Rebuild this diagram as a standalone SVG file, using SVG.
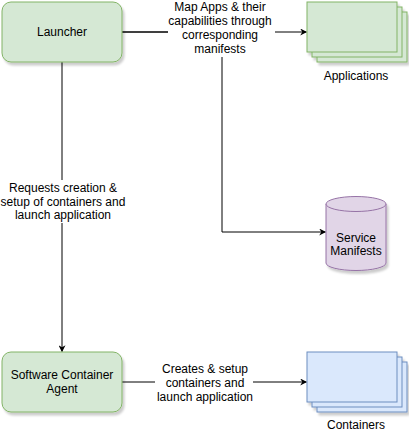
<svg xmlns="http://www.w3.org/2000/svg" width="409" height="432" viewBox="0 0 409 432">
<style>
text{font-family:"Liberation Sans",Arial,Helvetica,sans-serif;font-size:12px;fill:#000;text-anchor:middle;dominant-baseline:central}
.g{fill:#d5e8d4;stroke:#82b366;stroke-width:1}
.b{fill:#dae8fc;stroke:#6c8ebf;stroke-width:1}
.p{fill:#e1d5e7;stroke:#9673a6;stroke-width:1}
.e{fill:none;stroke:#000;stroke-width:1}
.lb{fill:#fff;stroke:none}
</style>
<defs>
<filter id="sh" x="-10%" y="-10%" width="130%" height="130%">
<feDropShadow dx="2" dy="3" stdDeviation="1.2" flood-color="#000" flood-opacity="0.2"/>
</filter>
<marker id="ar" viewBox="0 0 10 10" refX="9" refY="5" markerWidth="7" markerHeight="7" markerUnits="userSpaceOnUse" orient="auto">
<path d="M0,0 L10,5 L0,10 L3,5 Z" fill="#000"/>
</marker>
</defs>
<g id="connectors">
<path class="e" d="M122,32 H306.5" marker-end="url(#ar)"/>
<path class="e" d="M122,32 H222 V232 H325.5" marker-end="url(#ar)"/>
<path class="e" d="M62,62 V351.5" marker-end="url(#ar)"/>
<path class="e" d="M122,382 H306.5" marker-end="url(#ar)"/>
<rect class="lb" x="168" y="0" width="107" height="57"/>
<text x="220" y="7">Map Apps &amp; their</text>
<text x="220" y="21">capabilities through</text>
<text x="220" y="35">corresponding</text>
<text x="220" y="49">manifests</text>
<rect class="lb" x="1" y="180" width="126" height="43"/>
<text x="63" y="188">Requests creation &amp;</text>
<text x="63" y="202">setup of containers and</text>
<text x="63" y="215">launch application</text>
<rect class="lb" x="155" y="361" width="98" height="44"/>
<text x="205" y="369">Creates &amp; setup</text>
<text x="205" y="383">containers and</text>
<text x="205" y="397">launch application</text>
</g>
<g id="launcher">
<rect class="g" x="2" y="2" width="120" height="60" rx="9" filter="url(#sh)"/>
<text x="62" y="32">Launcher</text>
</g>
<g id="applications">
<g filter="url(#sh)">
<rect class="g" x="317" y="12" width="90" height="50"/>
<rect class="g" x="312" y="7" width="90" height="50"/>
<rect class="g" x="307" y="2" width="90" height="50"/>
</g>
<text x="356" y="76">Applications</text>
</g>
<g id="service-manifests">
<g filter="url(#sh)">
<path class="p" d="M326,204 A30,7.5 0 0 1 386,204 V263 A30,7.5 0 0 1 326,263 Z"/>
<path class="p" d="M326,204 A30,7.5 0 0 0 386,204" fill="none"/>
</g>
<text x="356" y="238">Service</text>
<text x="356" y="251">Manifests</text>
</g>
<g id="software-container-agent">
<rect class="g" x="2" y="352" width="120" height="60" rx="9" filter="url(#sh)"/>
<text x="62" y="375">Software Container</text>
<text x="62" y="389">Agent</text>
</g>
<g id="containers">
<g filter="url(#sh)">
<rect class="b" x="317" y="362" width="90" height="50"/>
<rect class="b" x="312" y="357" width="90" height="50"/>
<rect class="b" x="307" y="352" width="90" height="50"/>
</g>
<text x="356" y="425">Containers</text>
</g>
</svg>
